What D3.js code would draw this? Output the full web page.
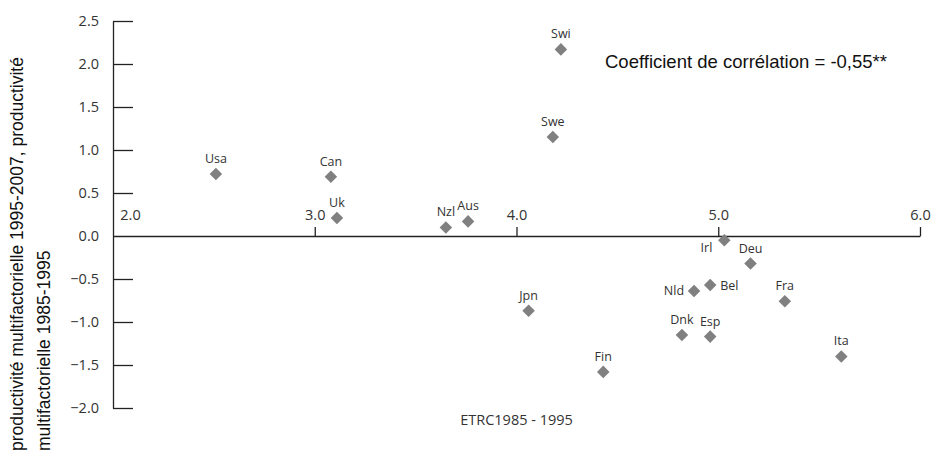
<!DOCTYPE html>
<html><head><meta charset="utf-8">
<script src="https://cdn.jsdelivr.net/npm/d3@7"></script>
<style>
body{margin:0;background:#fff;}
svg{display:block;}
.ax text{font-family:"Open Sans",sans-serif;font-size:14.5px;fill:#333;}
.ax path,.ax line{stroke:#222;stroke-width:1.3;}
.arial{font-family:"Liberation Sans",Arial,sans-serif;}
.cond{font-family:"Open Sans",sans-serif;}
</style></head>
<body>
<svg id="c" width="937" height="455"></svg>
<script>
const countries = ["Usa","Can","Uk","Nzl","Aus","Swe","Swi","Jpn","Fin","Irl","Deu","Nld","Bel","Fra","Dnk","Esp","Ita"];
const etrc      = [2.51, 3.08, 3.11, 3.65, 3.76, 4.18, 4.22, 4.06, 4.43, 5.03, 5.16, 4.88, 4.96, 5.33, 4.82, 4.96, 5.61];
const pmf       = [0.72, 0.69, 0.21, 0.10, 0.17, 1.15, 2.17, -0.87, -1.58, -0.05, -0.32, -0.64, -0.57, -0.76, -1.15, -1.17, -1.40];
const xTicks = [2, 3, 4, 5, 6];
const yTicks = [-2, -1.5, -1, -0.5, 0, 0.5, 1, 1.5, 2, 2.5];
const labelPos = {Irl:"belowleft", Nld:"left", Bel:"right"};

const svg = d3.select("#c");
const x = d3.scaleLinear().domain([2, 6]).range([113, 920]);
const y = d3.scaleLinear().domain([-2, 2.5]).range([408, 21]);
const fmt = d3.format(".1f");

// Y axis
const gy = svg.append("g").attr("class","ax").attr("transform",`translate(${x(2)},0)`)
  .call(d3.axisLeft(y).tickValues(yTicks).tickFormat(fmt).tickSizeInner(-20).tickSizeOuter(0).tickPadding(14));
gy.selectAll(".tick").filter(d => d === 0).select("line").remove();

// X axis (ticks and labels above)
const gx = svg.append("g").attr("class","ax").attr("transform",`translate(0,${y(0)})`)
  .call(d3.axisTop(x).tickValues(xTicks).tickFormat(fmt).tickSizeInner(9).tickSizeOuter(0).tickPadding(7));
gx.selectAll(".tick").filter(d => d === 2).select("line").remove();
gx.selectAll(".tick").filter(d => d === 2).select("text").attr("x", 17);

// Points
const data = countries.map((c,i) => ({c, x: etrc[i], y: pmf[i]}));
const sym = d3.symbol().type(d3.symbolDiamond2).size(100);
svg.append("g").selectAll("path").data(data).join("path")
  .attr("d", sym)
  .attr("transform", d => `translate(${x(d.x)},${y(d.y)})`)
  .attr("fill", "#808080");

// Labels
svg.append("g").attr("class","cond").selectAll("text").data(data).join("text")
  .attr("font-size", 12.5)
  .attr("fill", "#333")
  .each(function(d){
    const t = d3.select(this).text(d.c);
    const px = x(d.x), py = y(d.y);
    const p = labelPos[d.c];
    if (p === "left") t.attr("x", px - 10).attr("y", py + 4).attr("text-anchor","end");
    else if (p === "right") t.attr("x", px + 10).attr("y", py + 5).attr("text-anchor","start");
    else if (p === "belowleft") t.attr("x", px - 12).attr("y", py + 12).attr("text-anchor","end");
    else t.attr("x", px).attr("y", py - 11).attr("text-anchor","middle");
  });

// Correlation text
svg.append("text").attr("class","arial").attr("x", 605).attr("y", 68)
  .attr("font-size", 18.5).attr("fill", "#111")
  .text("Coefficient de corrélation = -0,55**");

// X axis title
svg.append("text").attr("class","cond").attr("x", x(4)).attr("y", 425).attr("text-anchor","middle")
  .attr("font-size", 14.5).attr("fill", "#333")
  .text("ETRC1985 - 1995");

// Y axis title (two lines, start-anchored at bottom)
const yt = svg.append("text").attr("class","arial")
  .attr("transform", "translate(0,451) rotate(-90)")
  .attr("font-size", 17.5).attr("fill", "#111");
yt.append("tspan").attr("x", 0).attr("y", 23).text("productivité multifactorielle 1995-2007, productivité");
yt.append("tspan").attr("x", 0).attr("y", 50).text("multifactorielle 1985-1995");
</script>
</body></html>
